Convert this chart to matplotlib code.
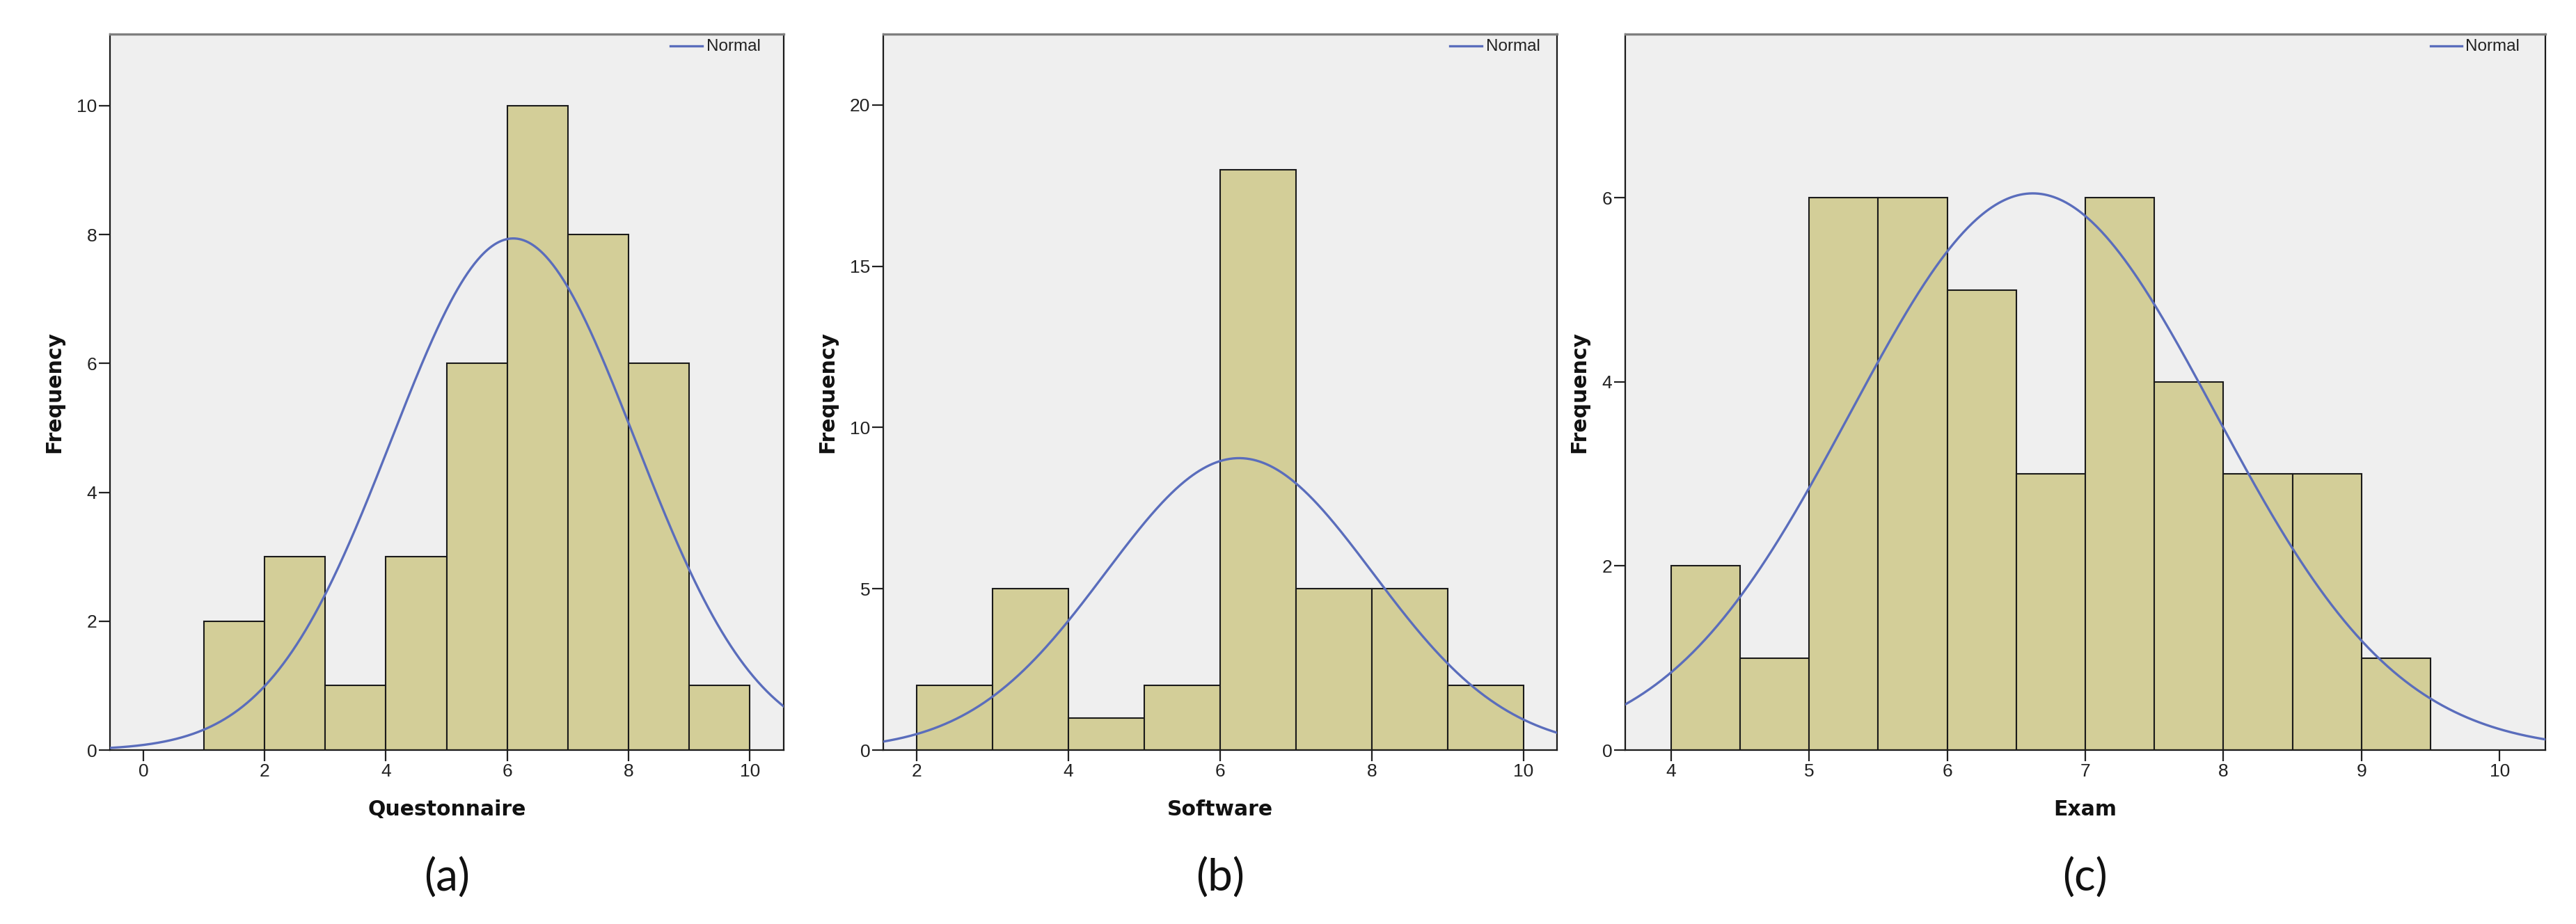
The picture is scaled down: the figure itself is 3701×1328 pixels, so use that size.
import numpy as np
import matplotlib
matplotlib.use("Agg")
import matplotlib.pyplot as plt
from matplotlib.lines import Line2D

# ---------------- data ----------------
q_edges = [1, 2, 3, 4, 5, 6, 7, 8, 9, 10]
q_counts = [2, 3, 1, 3, 6, 10, 8, 6, 1]
q_mean, q_sd = 6.1, 2.01

s_edges = [2, 3, 4, 5, 6, 7, 8, 9, 10]
s_counts = [2, 5, 1, 2, 18, 5, 5, 2]
s_mean, s_sd = 6.25, 1.763

e_edges = [4, 4.5, 5, 5.5, 6, 6.5, 7, 7.5, 8, 8.5, 9, 9.5]
e_counts = [2, 1, 6, 6, 5, 3, 6, 4, 3, 3, 1]
e_mean, e_sd = 6.62, 1.319

x_labels = ["Questonnaire", "Software", "Exam"]
panel_tags = ["(a)", "(b)", "(c)"]
q_xticks = [0, 2, 4, 6, 8, 10]
s_xticks = [2, 4, 6, 8, 10]
e_xticks = [4, 5, 6, 7, 8, 9, 10]
q_yticks = [0, 2, 4, 6, 8, 10]
s_yticks = [0, 5, 10, 15, 20]
e_yticks = [0, 2, 4, 6]

# ---------------- style ----------------
BAR = "#D3CE98"
BG = "#EFEFEF"
CURVE = "#5A6DBC"
W, H = 3701, 1328
DPI = 100

fig = plt.figure(figsize=(W / DPI, H / DPI), dpi=DPI)

def px_rect(l, r, t, b):
    return [l / W, 1 - b / H, (r - l) / W, (b - t) / H]

panels = [
    dict(rect=px_rect(158, 1126, 49, 1078), edges=q_edges, counts=q_counts,
         mean=q_mean, sd=q_sd, xlim=(-0.55, 10.56), ylim=(0, 11.11),
         xticks=q_xticks, yticks=q_yticks, legx=(963, 1009, 1015)),
    dict(rect=px_rect(1269, 2237, 49, 1078), edges=s_edges, counts=s_counts,
         mean=s_mean, sd=s_sd, xlim=(1.56, 10.44), ylim=(0, 22.2),
         xticks=s_xticks, yticks=s_yticks, legx=(2083, 2129, 2135)),
    dict(rect=px_rect(2335, 3657, 49, 1078), edges=e_edges, counts=e_counts,
         mean=e_mean, sd=e_sd, xlim=(3.67, 10.33), ylim=(0, 7.78),
         xticks=e_xticks, yticks=e_yticks, legx=(3492, 3537, 3542)),
]

for i, p in enumerate(panels):
    ax = fig.add_axes(p["rect"])
    ax.set_facecolor(BG)
    edges = np.array(p["edges"], dtype=float)
    counts = np.array(p["counts"], dtype=float)
    widths = np.diff(edges)
    ax.bar(edges[:-1], counts, width=widths, align="edge", color=BAR,
           edgecolor="#1a1a1a", linewidth=1.5, zorder=2)
    xs = np.linspace(p["xlim"][0], p["xlim"][1], 600)
    bw = widths[0]
    ys = counts.sum() * bw / (p["sd"] * np.sqrt(2 * np.pi)) * np.exp(-0.5 * ((xs - p["mean"]) / p["sd"]) ** 2)
    ax.plot(xs, ys, color=CURVE, lw=2.4, zorder=3, clip_on=True)
    ax.set_xlim(*p["xlim"])
    ax.set_ylim(*p["ylim"])
    ax.set_xticks(p["xticks"])
    ax.set_yticks(p["yticks"])
    ax.tick_params(axis="both", direction="out", length=11.5, width=1.6,
                   color="#222222", labelsize=19, pad=2, labelcolor="#222222")
    for lab in ax.get_xticklabels() + ax.get_yticklabels():
        lab.set_fontfamily("Liberation Sans")
    for side in ["left", "bottom", "right"]:
        ax.spines[side].set_color("#1a1a1a")
        ax.spines[side].set_linewidth(1.6)
    ax.spines["top"].set_color("#7f7f7f")
    ax.spines["top"].set_linewidth(2.4)
    ax.set_xlabel(x_labels[i], fontsize=21.5, fontweight="bold",
                  fontfamily="DejaVu Sans", labelpad=20, color="#111111")
    ax.set_ylabel("Frequency", fontsize=21.5, fontweight="bold",
                  fontfamily="DejaVu Sans", labelpad=13, color="#111111")
    # legend
    l0, l1, tx = p["legx"]
    fig.add_artist(Line2D([l0 / W, l1 / W], [1 - 66 / H, 1 - 66 / H],
                          color=CURVE, lw=2.4, transform=fig.transFigure))
    fig.text(tx / W, 1 - 67 / H, "Normal", fontsize=17.5, fontfamily="Liberation Sans",
             va="center", ha="left", color="#222222")
    # panel tag
    l, b, w, h = p["rect"]
    fig.text(l + w / 2, 1 - 1262 / H, panel_tags[i], fontsize=46,
             fontfamily="Lato", ha="center", va="center", color="#111111")

fig.savefig("out.png", dpi=DPI, facecolor="white")
